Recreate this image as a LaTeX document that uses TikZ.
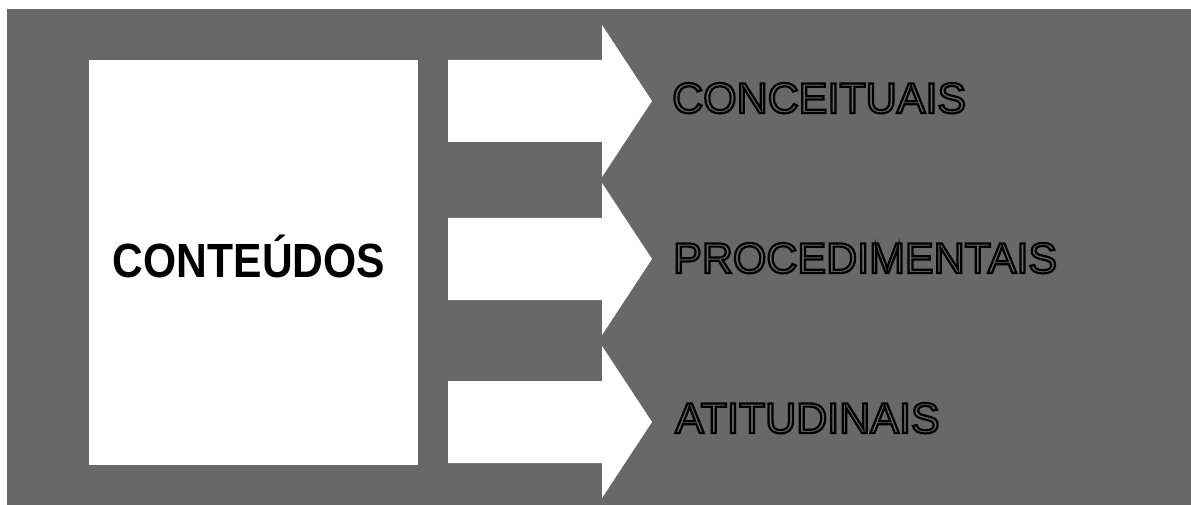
\documentclass[tikz,border=0pt]{standalone}
\usepackage{fontspec}
\setmainfont{Liberation Sans}
\usepackage{graphicx}
\definecolor{bg}{RGB}{104,104,104}
\newcommand{\outlined}[1]{\special{pdf:literal direct 2 Tr 2.2 w 0 0 0 RG}#1\special{pdf:literal direct 0 Tr}}
\begin{document}
\begin{tikzpicture}[x=1pt,y=-1pt,
  lbl/.style={anchor=base west, inner sep=0pt, font=\fontsize{43}{43}\selectfont, text=bg},
  whitearrow/.style={fill=white}]
\useasboundingbox (0,0) rectangle (1191,505);
\fill[white] (0,0) rectangle (1191,505);
\fill[bg] (7,9) rectangle (1191,505);
% main box
\node[fill=white, minimum width=329pt, minimum height=405pt, inner sep=0pt, anchor=north west] (box) at (89,60) {};
\node[anchor=base, inner sep=0pt, font=\fontsize{48}{48}\selectfont\bfseries] (ct) at (249,277) {\scalebox{0.887}[1]{CONTEÚDOS}};
% arrows
\foreach \c/\n in {101/a1,259/a2,422/a3}{
  \coordinate (\n) at (652,\c);
  \fill[whitearrow] (448,\c-41) -- (602,\c-41) -- (602,\c-76) -- (\n) -- (602,\c+76) -- (602,\c+41) -- (448,\c+41) -- cycle;
}
% labels
\node[lbl] (l1) at (672,113) {\outlined{CONCEITUAIS}};
\node[lbl] (l2) at (673,273) {\outlined{PROCEDIMENTAIS}};
\node[lbl] (l3) at (675,433) {\outlined{ATITUDINAIS}};
\end{tikzpicture}
\end{document}
